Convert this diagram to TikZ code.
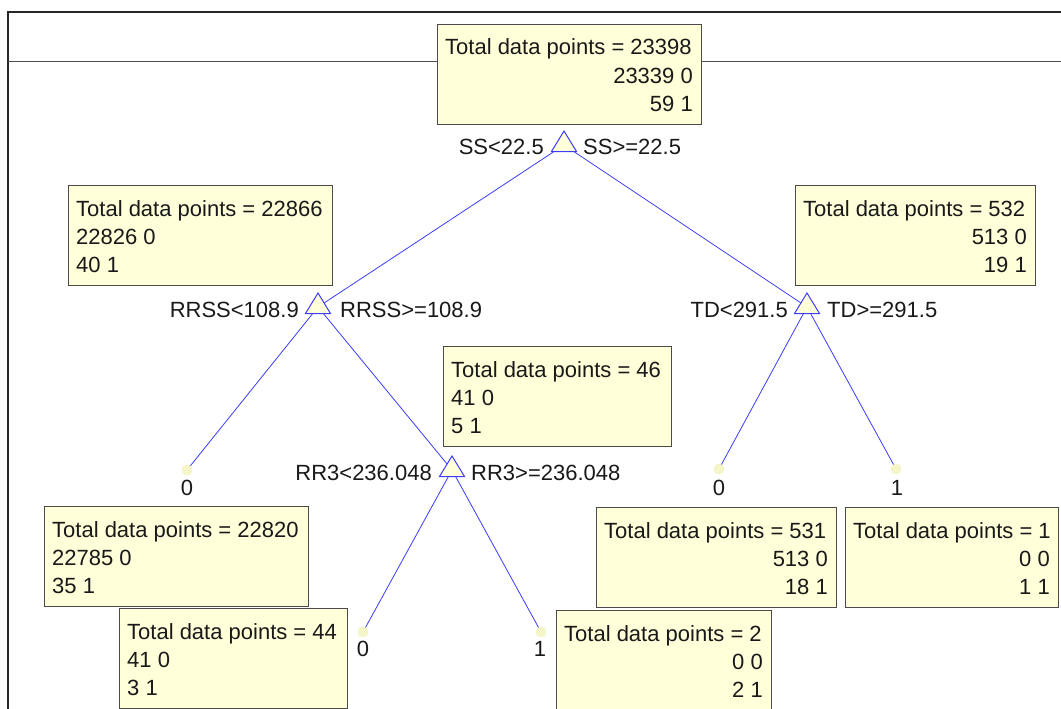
\documentclass[tikz,border=0pt]{standalone}
\usepackage{fontspec}
\setmainfont{Liberation Sans}
\definecolor{boxfill}{RGB}{255,255,218}
\definecolor{edgeblue}{RGB}{60,60,255}
\definecolor{txtcol}{RGB}{25,25,25}
\definecolor{boxline}{RGB}{75,75,75}
\definecolor{dotfill}{RGB}{245,245,200}
\tikzset{
  box/.style={draw=boxline, fill=boxfill, line width=1.1pt, inner sep=0pt, minimum height=100pt, anchor=north west},
  txt/.style={font=\fontsize{22}{26}\selectfont, text=txtcol, inner sep=0pt},
  lt/.style={txt, anchor=base west},
  rt/.style={txt, anchor=base east},
  edge/.style={draw=edgeblue, line width=0.8pt},
  tri/.style={draw=edgeblue, fill=boxfill, line width=1pt, line join=miter},
  leafdot/.style={circle, fill=dotfill, inner sep=0pt, minimum size=11pt},
  frame/.style={draw=black!85, line width=1.6pt},
}
\begin{document}
\begin{tikzpicture}[x=1pt,y=-1pt]
\useasboundingbox (0,0) rectangle (1061,709);
% frame
\draw[frame] (8,709) -- (8,12) -- (1061,12);
\draw[draw=black!70, line width=1pt] (8,62) -- (1061,62);

% triangle centres and leaves
\coordinate (t0) at (564,145);
\coordinate (t1) at (318,307);
\coordinate (t2) at (807,307);
\coordinate (t3) at (452,470);
\coordinate (l1) at (187,470);
\coordinate (l2) at (719,469);
\coordinate (l3) at (896,469);
\coordinate (l4) at (363,632);
\coordinate (l5) at (541,632);

% connectors
\draw[edge] (t0) -- (t1);
\draw[edge] (t0) -- (t2);
\draw[edge] (t1) -- (l1);
\draw[edge] (t1) -- (t3);
\draw[edge] (t2) -- (l2);
\draw[edge] (t2) -- (l3);
\draw[edge] (t3) -- (l4);
\draw[edge] (t3) -- (l5);

% triangles
\draw[tri] (564,131) -- ++(-12.5,20.5) -- ++(25,0) -- cycle;
\draw[tri] (318,293) -- ++(-12.5,20.5) -- ++(25,0) -- cycle;
\draw[tri] (807,293) -- ++(-12.5,20.5) -- ++(25,0) -- cycle;
\draw[tri] (452,456) -- ++(-12.5,20.5) -- ++(25,0) -- cycle;

% split labels
\node[rt] (s0l) at (544,154) {SS<22.5};
\node[lt] (s0r) at (583,154) {SS>=22.5};
\node[rt] (s1l) at (299,317) {RRSS<108.9};
\node[lt] (s1r) at (340,317) {RRSS>=108.9};
\node[rt] (s2l) at (788,317) {TD<291.5};
\node[lt] (s2r) at (827,317) {TD>=291.5};
\node[rt] (s3l) at (432,480) {RR3<236.048};
\node[lt] (s3r) at (471,480) {RR3>=236.048};

% leaves
\node[leafdot] (d1) at (l1) {};
\node[leafdot] (d2) at (l2) {};
\node[leafdot] (d3) at (l3) {};
\node[leafdot] (d4) at (l4) {};
\node[leafdot] (d5) at (l5) {};
\node[txt, anchor=base] (v1) at (187,495) {0};
\node[txt, anchor=base] (v2) at (719,495) {0};
\node[txt, anchor=base] (v3) at (897,495) {1};
\node[txt, anchor=base] (v4) at (363,656) {0};
\node[txt, anchor=base] (v5) at (540,656) {1};

% boxes
\node[box, minimum width=264pt] (broot) at (437,24) {};
\node[lt] (broot1) at (445,55) {Total data points = 23398};
\node[rt] (broot2) at (693,83.3) {23339 0};
\node[rt] (broot3) at (693,111.6) {59 1};

\node[box, minimum width=264pt] (ba) at (68,185) {};
\node[lt] (ba1) at (76,216) {Total data points = 22866};
\node[lt] (ba2) at (76,244.3) {22826 0};
\node[lt] (ba3) at (76,272.6) {40 1};

\node[box, minimum width=240pt] (bb) at (795,185) {};
\node[lt] (bb1) at (803,216) {Total data points = 532};
\node[rt] (bb2) at (1027,244.3) {513 0};
\node[rt] (bb3) at (1027,272.6) {19 1};

\node[box, minimum width=228pt] (bc) at (443,346) {};
\node[lt] (bc1) at (451,377) {Total data points = 46};
\node[lt] (bc2) at (451,405.3) {41 0};
\node[lt] (bc3) at (451,433.6) {5 1};

\node[box, minimum width=264pt] (bd) at (44,506) {};
\node[lt] (bd1) at (52,537) {Total data points = 22820};
\node[lt] (bd2) at (52,565.3) {22785 0};
\node[lt] (bd3) at (52,593.6) {35 1};

\node[box, minimum width=228pt] (be) at (119,608) {};
\node[lt] (be1) at (127,639) {Total data points = 44};
\node[lt] (be2) at (127,667.3) {41 0};
\node[lt] (be3) at (127,695.6) {3 1};

\node[box, minimum width=215pt] (bf) at (556,610) {};
\node[lt] (bf1) at (564,641) {Total data points = 2};
\node[rt] (bf2) at (763,669.3) {0 0};
\node[rt] (bf3) at (763,697.6) {2 1};

\node[box, minimum width=240pt] (bg) at (596,507) {};
\node[lt] (bg1) at (604,538) {Total data points = 531};
\node[rt] (bg2) at (828,566.3) {513 0};
\node[rt] (bg3) at (828,594.6) {18 1};

\node[box, minimum width=213pt] (bh) at (845,507) {};
\node[lt] (bh1) at (853,538) {Total data points = 1};
\node[rt] (bh2) at (1050,566.3) {0 0};
\node[rt] (bh3) at (1050,594.6) {1 1};
\end{tikzpicture}
\end{document}
